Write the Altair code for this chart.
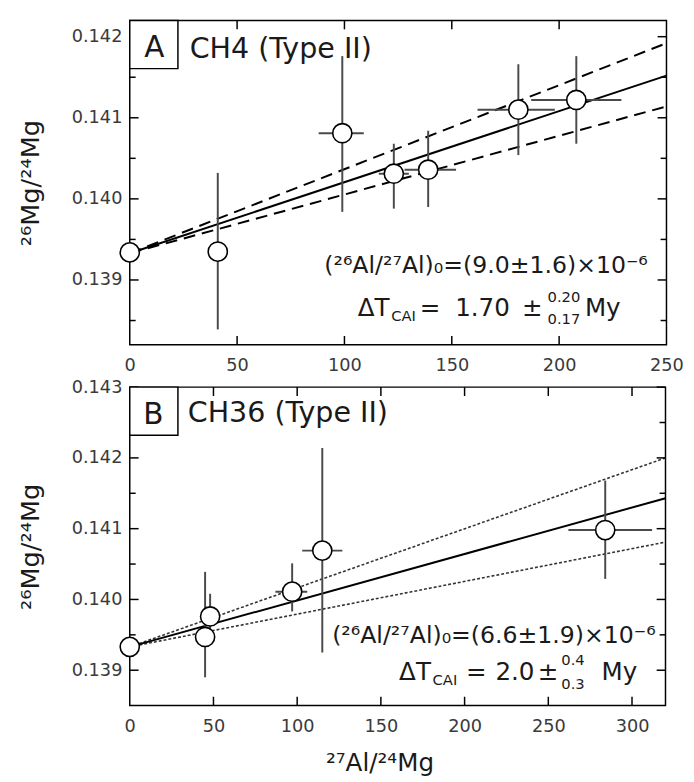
import altair as alt
import pandas as pd

FONT = "DejaVu Sans"

# ---------------- Panel A: CH4 (Type II) ----------------
a_x    = [0, 41, 99, 123, 139, 181, 208]
a_y    = [0.13934, 0.13935, 0.14081, 0.14031, 0.14036, 0.14110, 0.14122]
a_ylo  = [0.13934, 0.13839, 0.13984, 0.13988, 0.13990, 0.14054, 0.14068]
a_yhi  = [0.13934, 0.14032, 0.14176, 0.14068, 0.14084, 0.14166, 0.14176]
a_xlo  = [0, 41, 88, 116, 128, 162, 187]
a_xhi  = [0, 41, 109, 130, 152, 198, 229]
a_fit_x   = [0, 250]
a_fit     = [0.13933, 0.14152]
a_fit_hi  = [0.13933, 0.14192]
a_fit_lo  = [0.13933, 0.14114]
a_xticks  = [0, 50, 100, 150, 200, 250]
a_yticks  = [0.139, 0.140, 0.141, 0.142]
a_yminor  = [0.1385, 0.1395, 0.1405, 0.1415]
a_xmajor  = [50, 100, 150, 200]

# ---------------- Panel B: CH36 (Type II) ----------------
b_x    = [0, 45, 48, 97, 115, 284]
b_y    = [0.13933, 0.13947, 0.13976, 0.14011, 0.14069, 0.14098]
b_ylo  = [0.13933, 0.13890, 0.13945, 0.13983, 0.13925, 0.14029]
b_yhi  = [0.13933, 0.14039, 0.14008, 0.14051, 0.14214, 0.14168]
b_xlo  = [0, 45, 48, 87, 103, 262]
b_xhi  = [0, 45, 48, 106, 127, 312]
b_fit_x   = [0, 320]
b_fit     = [0.13933, 0.14143]
b_fit_hi  = [0.13933, 0.14200]
b_fit_lo  = [0.13933, 0.14081]
b_xticks  = [0, 50, 100, 150, 200, 250, 300]
b_yticks  = [0.139, 0.140, 0.141, 0.142, 0.143]
b_yminor  = [0.1395, 0.1405, 0.1415, 0.1425]
b_xmajor  = [50, 100, 150, 200, 250, 300]

Y_TITLE = "²⁶Mg/²⁴Mg"
X_TITLE = "²⁷Al/²⁴Mg"

one = pd.DataFrame({"k": [0]})


def txt(s, x, y, size, align="left"):
    return alt.Chart(one).mark_text(
        font=FONT, fontSize=size, align=align, baseline="alphabetic", color="#1a1a1a"
    ).encode(x=alt.value(x), y=alt.value(y), text=alt.value(s))


def panel(px, py, pylo, pyhi, pxlo, pxhi, fx, fy, fyhi, fylo, xticks, yticks, yminor,
          xmajor, xdom, ydom, W, H, env_dash, env_width, env_color, texts, xtitle):
    xscale = alt.Scale(domain=xdom, nice=False, zero=False)
    yscale = alt.Scale(domain=ydom, nice=False, zero=False)
    xaxis_kw = dict(values=xticks, format="d", ticks=False, tickSize=0, domain=False,
                    grid=False, labelFont=FONT, labelFontSize=18, labelColor="#3a3a3a",
                    labelPadding=12, labelFlush=False, labelOverlap=False)
    if xtitle:
        xaxis = alt.Axis(title=xtitle, titleFont=FONT, titleFontSize=25,
                         titleFontWeight="normal", titleColor="#1a1a1a",
                         titlePadding=16, titleX=254, **xaxis_kw)
    else:
        xaxis = alt.Axis(title=None, **xaxis_kw)
    yaxis = alt.Axis(title=Y_TITLE, values=yticks, format=".3f", ticks=False, tickSize=0,
                     domain=False, grid=False, labelFont=FONT, labelFontSize=18,
                     labelColor="#3a3a3a", labelPadding=8, labelFlush=False,
                     labelOverlap=False, titleFont=FONT, titleFontSize=26,
                     titleFontWeight="normal", titleColor="#1a1a1a", titlePadding=28)

    X = lambda f: alt.X(f, type="quantitative", scale=xscale, axis=xaxis)
    Y = lambda f: alt.Y(f, type="quantitative", scale=yscale, axis=yaxis)

    pts = pd.DataFrame({"x": px, "y": py, "ylo": pylo, "yhi": pyhi,
                        "xlo": pxlo, "xhi": pxhi})
    env = pd.DataFrame({"x": fx + fx, "y": fyhi + fylo,
                        "band": ["hi"] * len(fx) + ["lo"] * len(fx)})
    fit = pd.DataFrame({"x": fx, "y": fy})

    env_l = alt.Chart(env).mark_line(color=env_color, strokeWidth=env_width,
                                     strokeDash=env_dash).encode(
        x=X("x"), y=Y("y"), detail="band:N")
    fit_l = alt.Chart(fit).mark_line(color="black", strokeWidth=2).encode(
        x=X("x"), y=Y("y"))
    verr = alt.Chart(pts).mark_rule(color="#4a4a4a", strokeWidth=2).encode(
        x=X("x"), y=Y("ylo"), y2="yhi")
    herr = alt.Chart(pts).mark_rule(color="#4a4a4a", strokeWidth=2).encode(
        x=X("xlo"), x2="xhi", y=Y("y"))
    dots = alt.Chart(pts).mark_point(shape="circle", filled=True, fill="white",
                                     stroke="black", strokeWidth=1.6, size=380,
                                     opacity=1).encode(x=X("x"), y=Y("y"))

    ymaj = pd.DataFrame({"v": yticks})
    ymin = pd.DataFrame({"v": yminor})
    xmj = pd.DataFrame({"v": xmajor})
    tk = dict(color="black", strokeWidth=1.5)
    ticks = [
        alt.Chart(ymaj).mark_rule(**tk).encode(y=Y("v"), x=alt.value(0), x2=alt.value(9)),
        alt.Chart(ymaj).mark_rule(**tk).encode(y=Y("v"), x=alt.value(W - 9), x2=alt.value(W)),
        alt.Chart(ymin).mark_rule(**tk).encode(y=Y("v"), x=alt.value(0), x2=alt.value(6)),
        alt.Chart(ymin).mark_rule(**tk).encode(y=Y("v"), x=alt.value(W - 6), x2=alt.value(W)),
        alt.Chart(xmj).mark_rule(**tk).encode(x=X("v"), y=alt.value(H), y2=alt.value(H - 9)),
        alt.Chart(xmj).mark_rule(**tk).encode(x=X("v"), y=alt.value(0), y2=alt.value(9)),
    ]

    box = alt.Chart(one).mark_rect(fill="white", stroke="black", strokeWidth=1.5).encode(
        x=alt.value(0), x2=alt.value(49), y=alt.value(0), y2=alt.value(49))

    layers = [env_l, fit_l, verr, herr, dots] + ticks + [box] + texts
    return alt.layer(*layers).properties(width=W, height=H)


WA, HA = 546, 330
WB, HB = 545, 324

texts_a = [
    txt("A", 25, 37, 30, align="center"),
    txt("CH4 (Type II)", 61, 38, 29),
    txt("(²⁶Al/²⁷Al)₀=(9.0±1.6)×10⁻⁶", 527, 257, 24, align="right"),
    txt("ΔT", 232, 301, 25),
    txt("CAI", 266, 306, 15),
    txt("=", 295, 301, 25),
    txt("1.70", 331, 301, 25),
    txt("±", 399, 301, 25),
    txt("0.20", 425, 286, 15),
    txt("0.17", 425, 309, 15),
    txt("My", 463, 301, 25),
]

texts_b = [
    txt("B", 24, 38, 30, align="center"),
    txt("CH36 (Type II)", 59, 35, 29),
    txt("(²⁶Al/²⁷Al)₀=(6.6±1.9)×10⁻⁶", 535, 260, 24, align="right"),
    txt("ΔT", 274, 298, 25),
    txt("CAI", 308, 303, 15),
    txt("=", 342, 298, 25),
    txt("2.0", 372, 298, 25),
    txt("±", 415, 298, 25),
    txt("0.4", 439, 283, 15),
    txt("0.3", 439, 307, 15),
    txt("My", 480, 298, 25),
]

pa = panel(a_x, a_y, a_ylo, a_yhi, a_xlo, a_xhi, a_fit_x, a_fit, a_fit_hi, a_fit_lo,
           a_xticks, a_yticks, a_yminor, a_xmajor, [0, 250], [0.1382, 0.1422],
           WA, HA, [12, 7], 2, "black", texts_a, None)
pb = panel(b_x, b_y, b_ylo, b_yhi, b_xlo, b_xhi, b_fit_x, b_fit, b_fit_hi, b_fit_lo,
           b_xticks, b_yticks, b_yminor, b_xmajor, [0, 320], [0.1385, 0.143],
           WB, HB, [3, 2], 1.6, "#333333", texts_b, X_TITLE)

chart = alt.vconcat(pa, pb, spacing=43, bounds="flush").properties(
    padding={"left": 17, "top": 12, "right": 10, "bottom": 5},
    background="white",
).configure_view(stroke="black", strokeWidth=1.5)

chart.save("out.html", embed_options={"renderer": "svg", "actions": False})
